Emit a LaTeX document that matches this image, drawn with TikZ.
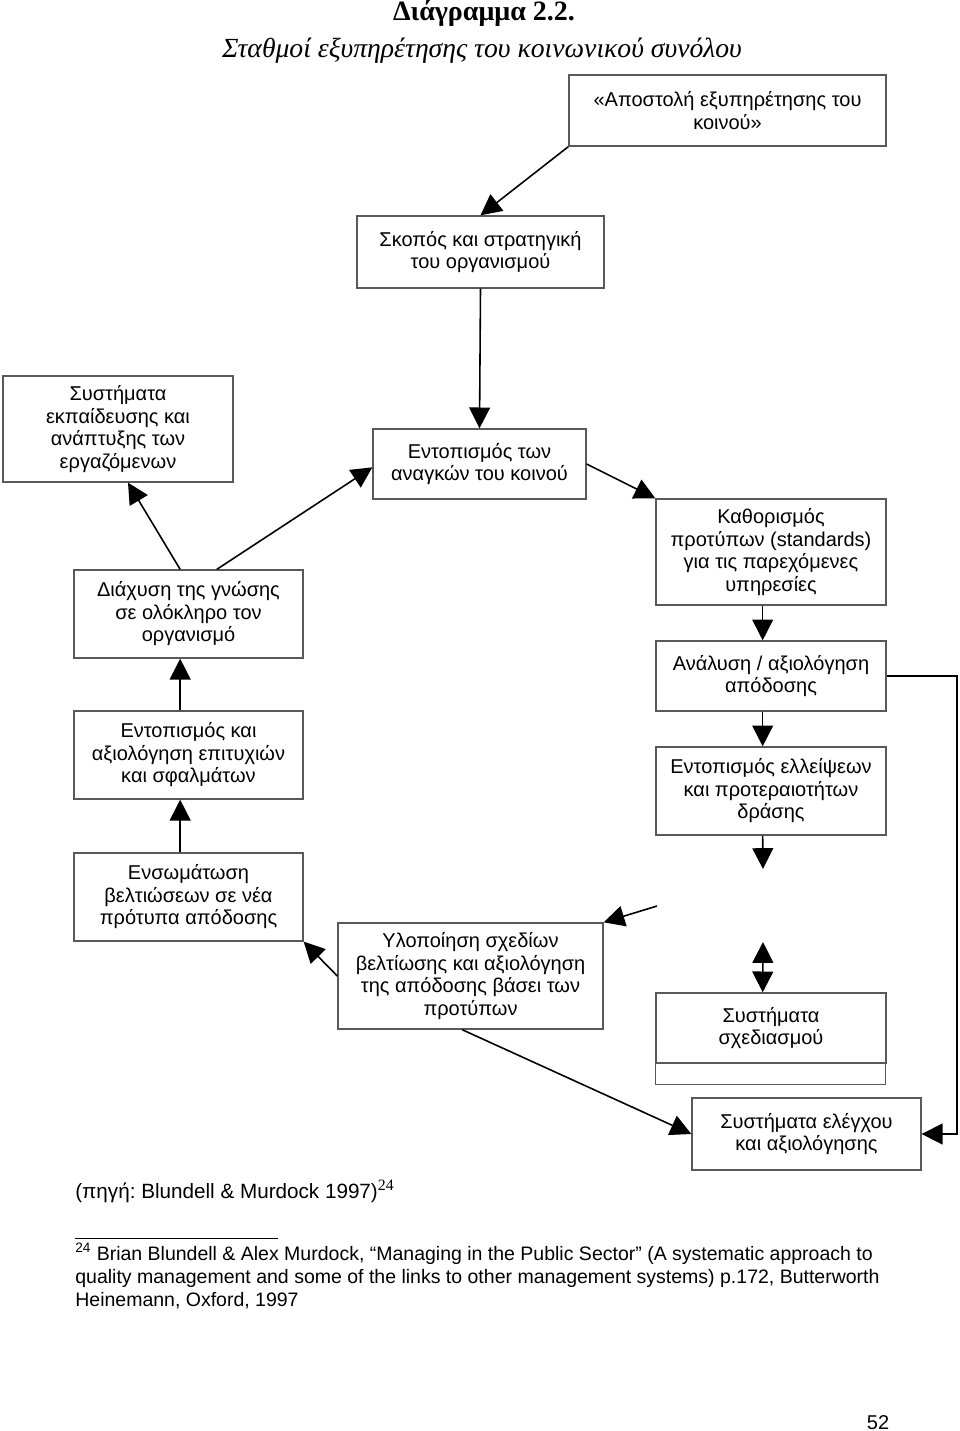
\documentclass[tikz,border=0pt]{standalone}
\usepackage{fontspec}
\setmainfont{Liberation Sans}
\newfontfamily\serifgr{Liberation Serif}
\usetikzlibrary{arrows.meta,positioning}
\tikzset{
  box/.style={draw=black!65, line width=0.8pt, align=center, inner sep=2pt,
    font=\fontsize{12}{13.5}\selectfont},
  link/.style={line width=0.95pt, -{Triangle[length=12.5pt,width=12.5pt]}},
  dlink/.style={line width=0.95pt, {Triangle[length=12.5pt,width=12.5pt]}-{Triangle[length=12.5pt,width=12.5pt]}},
  txt/.style={inner sep=0pt, anchor=base west},
}
\frenchspacing
\begin{document}
\begin{tikzpicture}[x=0.6pt,y=-0.6pt]
  \useasboundingbox (0,0) rectangle (960,1431);

  % titles
  \node[anchor=base, inner sep=0pt, font=\serifgr\bfseries\fontsize{16.8}{20}\selectfont] (title) at (484,21) {Διάγραμμα 2.2.};
  \node[anchor=base, inner sep=0pt, font=\serifgr\itshape\fontsize{16.6}{20}\selectfont] (subtitle) at (482,58) {Σταθμοί εξυπηρέτησης του κοινωνικού συνόλου};

  % boxes
  \node[box, minimum width=190.2pt, minimum height=42.6pt] (mission) at (727.5,110.5)
        {«Αποστολή εξυπηρέτησης του\\κοινού»};
  \node[box, minimum width=148.2pt, minimum height=43.2pt] (aim) at (480.5,252)
        {Σκοπός και στρατηγική\\του οργανισμού};
  \node[box, minimum width=127.8pt, minimum height=42pt] (needs) at (479.5,464)
        {Εντοπισμός των\\αναγκών του κοινού};
  \node[box, minimum width=138pt, minimum height=63.6pt] (train) at (118,429)
        {Συστήματα\\εκπαίδευσης και\\ανάπτυξης των\\εργαζόμενων};
  \node[box, minimum width=137.4pt, minimum height=52.8pt] (spread) at (188.5,614)
        {Διάχυση της γνώσης\\σε ολόκληρο τον\\οργανισμό};
  \node[box, minimum width=138pt, minimum height=63.6pt] (standards) at (771,552)
        {Καθορισμός\\προτύπων (standards)\\για τις παρεχόμενες\\υπηρεσίες};
  \node[box, minimum width=138pt, minimum height=42pt] (analysis) at (771,676)
        {Ανάλυση / αξιολόγηση\\απόδοσης};
  \node[box, minimum width=138pt, minimum height=52.8pt] (gaps) at (771,791)
        {Εντοπισμός ελλείψεων\\και προτεραιοτήτων\\δράσης};
  \node[box, minimum width=138pt, minimum height=42pt] (plan) at (771,1028)
        {Συστήματα\\σχεδιασμού};
  \draw[draw=black!65, line width=0.8pt] (plan.south west) rectangle ++(230,21);
  \node[box, minimum width=137.4pt, minimum height=43.2pt] (control) at (806.5,1134)
        {Συστήματα ελέγχου\\και αξιολόγησης};
  \node[box, minimum width=159pt, minimum height=63.6pt] (impl) at (470.5,976)
        {Υλοποίηση σχεδίων\\βελτίωσης και αξιολόγηση\\της απόδοσης βάσει των\\προτύπων};
  \node[box, minimum width=137.4pt, minimum height=52.8pt] (incorp) at (188.5,897)
        {Ενσωμάτωση\\βελτιώσεων σε νέα\\πρότυπα απόδοσης};
  \node[box, minimum width=137.4pt, minimum height=52.8pt] (success) at (188.5,755)
        {Εντοπισμός και\\αξιολόγηση επιτυχιών\\και σφαλμάτων};

  % free ends
  \coordinate (gapsend) at (763,869);
  \coordinate (planstart) at (657,906);
  \coordinate (plantop) at (763,942);
  \coordinate (rail) at (957,0);

  % connectors
  \draw[link] (mission.south west) -- (aim.north);
  \draw[link] (aim.south) -- (needs.north);
  \draw[link] ([xshift=-5pt]spread.north) -- ([xshift=6pt]train.south);
  \draw[link] ([xshift=17pt]spread.north) -- ([yshift=-2pt]needs.west);
  \draw[link] (needs.east) -- (standards.north west);
  \draw[link] ([xshift=-5pt]standards.south) -- ([xshift=-5pt]analysis.north);
  \draw[link] ([xshift=-5pt]analysis.south) -- ([xshift=-5pt]gaps.north);
  \draw[link] ([xshift=-5pt]gaps.south) -- (gapsend);
  \draw[link] (planstart) -- (impl.north east);
  \draw[dlink] (plantop) -- ([xshift=-5pt]plan.north);
  \draw[link] (impl.west) -- (incorp.south east);
  \draw[link] ([xshift=-5pt]incorp.north) -- ([xshift=-5pt]success.south);
  \draw[link] ([xshift=-5pt]success.north) -- ([xshift=-5pt]spread.south);
  \draw[link] ([xshift=-5pt]impl.south) -- (control.west);
  \draw[link] (analysis.east) -- (analysis.east -| rail) |- (control.east);

  % source and footnote
  \node[txt, font=\fontsize{12.4}{14}\selectfont] (source) at (75,1198)
        {(πηγή: Blundell \& Murdock 1997)\textsuperscript{\serifgr\fontsize{9.5}{10}\selectfont 24}};
  \draw[line width=0.6pt] (75,1238) -- (278,1238);
  \node[txt, font=\fontsize{11.7}{14}\selectfont] (fn1) at (75,1260)
        {\textsuperscript{24} Brian Blundell \& Alex Murdock, “Managing in the Public Sector” (A systematic approach to};
  \node[txt, font=\fontsize{11.7}{14}\selectfont] (fn2) at (75,1283)
        {quality management and some of the links to other management systems) p.172, Butterworth};
  \node[txt, font=\fontsize{11.7}{14}\selectfont] (fn3) at (75,1306)
        {Heinemann, Oxford, 1997};
  \node[anchor=base, inner sep=0pt, font=\fontsize{12}{14}\selectfont] (page) at (878,1429) {52};
\end{tikzpicture}
\end{document}
